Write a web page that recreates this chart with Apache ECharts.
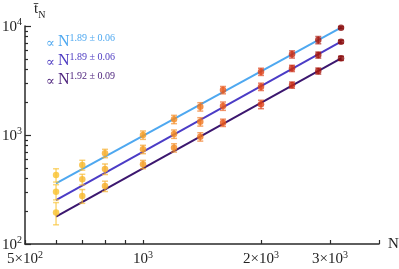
<!DOCTYPE html>
<html><head><meta charset="utf-8">
<script src="https://cdn.jsdelivr.net/npm/echarts@6/dist/echarts.min.js"></script>
<style>html,body{margin:0;padding:0;background:#fff}#c{width:399px;height:269px}</style>
</head><body><div id="c"></div>
<script>
// ---- data ----
const N = [600, 700, 800, 1000, 1200, 1400, 1600, 2000, 2400, 2800, 3200];
const tTop = [430, 531, 679, 1000, 1393, 1818, 2587, 3808, 5500, 7440, 9650];
const errTop = [60, 55, 60, 88, 122, 160, 200, 290, 420, 570, 200];
const tMid = [302, 392, 488, 739, 1021, 1324, 1845, 2773, 4090, 5420, 7180];
const errMid = [48, 44, 54, 65, 90, 117, 162, 215, 270, 350, 230];
const tBot = [195, 276, 340, 538, 764, 964, 1297, 1913, 2875, 3866, 5055];
const errBot = [45, 40, 37, 47, 67, 85, 100, 170, 190, 250, 220];
const fitN = [600, 3200];
const fitTop = [360, 9650];
const fitMid = [253, 7180];
const fitBot = [178, 5055];
const exponents = ['1.89 ± 0.06', '1.89 ± 0.06', '1.92 ± 0.09'];
const xTickValues = [500, 600, 700, 800, 900, 1000, 2000, 3000, 4000];
const xLabelValues = [500, 1000, 2000, 3000];
const xLabelMant = ['5×10', '10', '2×10', '3×10'];
const xLabelExp = ['2', '3', '3', '3'];
const yMajor = [100, 1000, 10000];
const yMinor = [200, 300, 400, 500, 600, 700, 800, 900, 2000, 3000, 4000, 5000, 6000, 7000, 8000, 9000];
const yLabelExp = ['2', '3', '4'];

// ---- styles ----
const pointColors = ['#f9c22e', '#f8b82b', '#f6ad28', '#f59c22', '#f3891f', '#f0741c', '#e9581a', '#dd3f15', '#c92a12', '#a8160d', '#8a0b0b'];
const lineColors = ['#4ea8f0', '#4b3cc6', '#3c176f'];
const textColors = ['#4ea8f0', '#4d3bc2', '#4a1f7a'];
const FONT = '"Liberation Serif", "DejaVu Serif", serif';
const axisColor = '#2a2a2a';

const chart = echarts.init(document.getElementById('c'), null, { renderer: 'canvas' });

const richLabel = {
  m: { fontFamily: FONT, fontSize: 15, color: '#222', lineHeight: 17, verticalAlign: 'bottom' },
  s: { fontFamily: FONT, fontSize: 10, color: '#222', lineHeight: 10, verticalAlign: 'top' }
};

function errData(vals, errs) {
  return N.map((n, i) => [n, vals[i] - errs[i], vals[i] + errs[i]]);
}
function pointData(vals) {
  return N.map((n, i) => ({ value: [n, vals[i]], itemStyle: { color: pointColors[i] } }));
}
function renderErr(params, api) {
  const x = api.value(0), lo = api.value(1), hi = api.value(2);
  const a = api.coord([x, lo]), b = api.coord([x, hi]);
  const hw = 3;
  const st = { stroke: pointColors[params.dataIndex], lineWidth: 1.5, opacity: 0.65 };
  return {
    type: 'group', children: [
      { type: 'line', shape: { x1: a[0], y1: a[1], x2: b[0], y2: b[1] }, style: st },
      { type: 'line', shape: { x1: a[0] - hw, y1: a[1], x2: a[0] + hw, y2: a[1] }, style: st },
      { type: 'line', shape: { x1: b[0] - hw, y1: b[1], x2: b[0] + hw, y2: b[1] }, style: st }
    ]
  };
}

const sets = [[tTop, errTop, fitTop], [tMid, errMid, fitMid], [tBot, errBot, fitBot]];
const series = [];
sets.forEach((s, k) => {
  series.push({
    type: 'line', data: fitN.map((n, i) => [n, s[2][i]]), symbol: 'none',
    lineStyle: { color: lineColors[k], width: 2 }, z: 2, silent: true, animation: false
  });
});
sets.forEach((s) => {
  series.push({
    type: 'custom', data: errData(s[0], s[1]), renderItem: renderErr,
    encode: { x: 0, y: [1, 2] }, z: 3, silent: true, animation: false
  });
  series.push({
    type: 'scatter', data: pointData(s[0]), symbolSize: 6.5, z: 4, silent: true, animation: false
  });
});

const annot = exponents.map((e, k) => ({
  type: 'text', left: 46, top: 33 + k * 19,
  style: {
    text: '{p|∝ }{n|N}{s|' + e + '}',
    rich: {
      p: { fontFamily: FONT, fontSize: 13, fill: textColors[k], lineHeight: 17, verticalAlign: 'bottom' },
      n: { fontFamily: FONT, fontSize: 16, fill: textColors[k], lineHeight: 17, verticalAlign: 'bottom' },
      s: { fontFamily: FONT, fontSize: 10, fill: textColors[k], lineHeight: 10, verticalAlign: 'top' }
    }
  }
}));

chart.setOption({
  animation: false,
  backgroundColor: '#fff',
  grid: { left: 25, right: 20, top: 26, bottom: 25, containLabel: false, outerBoundsMode: 'none' },
  xAxis: {
    type: 'log', logBase: 10, min: 500, max: 4000,
    name: 'N', nameLocation: 'end', nameGap: 9,
    nameTextStyle: { fontFamily: FONT, fontSize: 15, color: '#222', verticalAlign: 'middle' },
    axisLine: { lineStyle: { color: axisColor, width: 1.5 } },
    axisTick: { inside: true, length: 4, customValues: xTickValues, lineStyle: { color: axisColor, width: 1.2 } },
    axisLabel: {
      customValues: xLabelValues, margin: 6, hideOverlap: false,
      formatter: function (v) {
        const i = xLabelValues.findIndex(x => Math.abs(x - v) < 1e-6 * x);
        if (i < 0) return '';
        return '{m|' + xLabelMant[i] + '}{s|' + xLabelExp[i] + '}';
      },
      rich: richLabel
    },
    splitLine: { show: false }, minorTick: { show: false }
  },
  yAxis: [{
    type: 'log', logBase: 10, min: 100, max: 10000,
    axisLine: { show: true, lineStyle: { color: axisColor, width: 1.5 } },
    axisTick: { show: true, inside: true, length: 6, customValues: yMajor, lineStyle: { color: axisColor, width: 1.2 } },
    axisLabel: {
      customValues: yMajor, margin: 3, hideOverlap: false,
      formatter: function (v) {
        const i = yMajor.findIndex(x => Math.abs(x - v) < 1e-6 * x);
        if (i < 0) return '';
        return '{m|10}{s|' + yLabelExp[i] + '}';
      },
      rich: richLabel
    },
    splitLine: { show: false }
  }, {
    type: 'log', logBase: 10, min: 100, max: 10000, position: 'left',
    axisLine: { show: false },
    axisTick: { show: true, inside: true, length: 3, customValues: yMinor, lineStyle: { color: axisColor, width: 1.2 } },
    axisLabel: { show: false },
    splitLine: { show: false }
  }],
  graphic: [{
    type: 'text', left: 34, top: 2,
    style: {
      text: '{t|t\u0304}{sub|N}',
      rich: {
        t: { fontFamily: FONT, fontSize: 15, fill: '#222', lineHeight: 16, verticalAlign: 'top' },
        sub: { fontFamily: FONT, fontSize: 10, fill: '#222', lineHeight: 10, verticalAlign: 'bottom', padding: [0, 0, -2, 0] }
      }
    }
  }].concat(annot),
  series: series
});
</script></body></html>
